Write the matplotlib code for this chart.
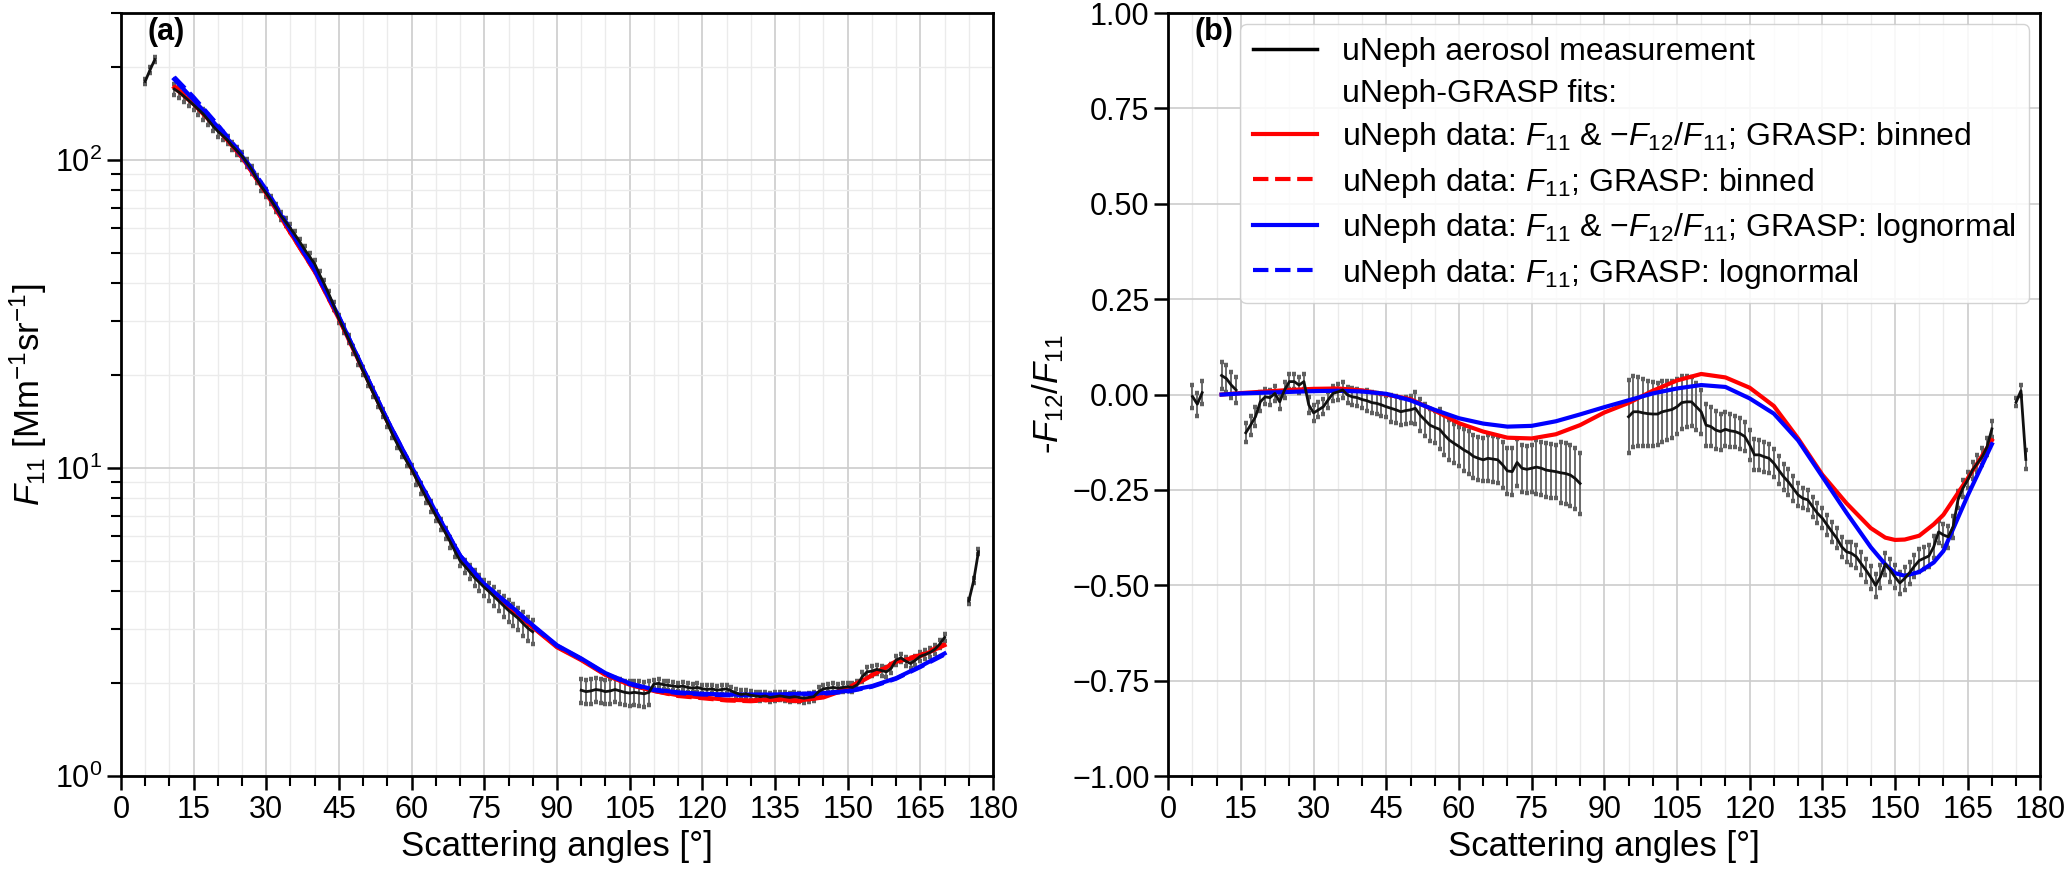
import numpy as np
import matplotlib
matplotlib.use('Agg')
import matplotlib.pyplot as plt
from matplotlib.lines import Line2D
from matplotlib.ticker import MultipleLocator, NullFormatter

plt.rcParams['font.family'] = ['Liberation Sans', 'DejaVu Sans']
plt.rcParams['mathtext.fontset'] = 'custom'
plt.rcParams['mathtext.rm'] = 'Liberation Sans'
plt.rcParams['mathtext.it'] = 'Liberation Sans:italic'
plt.rcParams['mathtext.bf'] = 'Liberation Sans:bold'

# ---------------- measurement angles (deg) ----------------
ang_seg1 = [5, 6, 7]
ang_seg2 = list(range(11, 86))
ang_seg3 = list(range(95, 171))
ang_seg4 = [175, 176, 177]

# ---------------- panel (a): F11 measurement ----------------
f11_seg1 = [180, 196, 212]
f11_seg1_err = [3.5, 4.0, 4.2]
f11_seg2 = [170, 166, 161, 156, 151, 146, 141, 135, 129, 124,
            120, 116, 111, 107, 103, 98, 93, 87, 82, 78,
            74, 70, 66, 63, 60, 57, 54, 51, 48.5, 46,
            42.5, 39.5, 36.5, 33.5, 30.5, 28.3, 26.2, 24.2, 22.3, 20.6,
            19.0, 17.6, 16.3, 15.1, 14.0, 12.9, 12.0, 11.2, 10.5, 9.9,
            9.2, 8.6, 8.0, 7.5, 7.0, 6.55, 6.15, 5.75, 5.35, 5.0,
            4.8, 4.6, 4.4, 4.25, 4.1, 3.97, 3.83, 3.7, 3.57, 3.45,
            3.35, 3.25, 3.13, 3.02, 2.94]
# relative uncertainty in percent
f11_seg2_pct = [4, 4, 4, 4, 4, 4, 4, 4, 4, 4,
                3, 3, 3, 3, 3, 3, 3, 3, 3, 3,
                3, 3, 3, 3, 3, 3, 3, 3, 3, 3,
                3, 3, 3, 3, 3, 3, 3, 3, 3, 3,
                3, 3, 3, 3, 3, 3, 3, 3, 3, 3,
                4, 4, 4, 4, 4, 4, 4, 4, 4, 4,
                5, 5, 6, 6, 6, 7, 7, 7, 8, 8,
                8, 8, 9, 9, 9]
f11_seg3 = [1.90, 1.88, 1.89, 1.91, 1.90, 1.88, 1.89, 1.91, 1.89, 1.87,
            1.86, 1.87, 1.86, 1.85, 1.87, 1.99, 2.00, 1.98, 1.97, 1.96,
            1.95, 1.96, 1.94, 1.93, 1.94, 1.92, 1.91, 1.92, 1.90, 1.91,
            1.92, 1.89, 1.86, 1.84, 1.85, 1.83, 1.82, 1.81, 1.82, 1.80,
            1.81, 1.82, 1.81, 1.80, 1.81, 1.80, 1.79, 1.80, 1.81, 1.88,
            1.92, 1.93, 1.94, 1.93, 1.94, 1.95, 1.94, 1.98, 2.10, 2.18,
            2.19, 2.22, 2.20, 2.18, 2.24, 2.38, 2.42, 2.36, 2.32, 2.38,
            2.45, 2.48, 2.52, 2.58, 2.68, 2.82]
f11_seg3_err = [0.17, 0.17, 0.17, 0.17, 0.17, 0.17, 0.17, 0.17, 0.17, 0.17,
                0.17, 0.17, 0.17, 0.17, 0.17, 0.06, 0.06, 0.06, 0.06, 0.06,
                0.06, 0.06, 0.06, 0.06, 0.06, 0.06, 0.06, 0.06, 0.06, 0.06,
                0.06, 0.06, 0.06, 0.06, 0.06, 0.06, 0.06, 0.06, 0.06, 0.06,
                0.06, 0.06, 0.06, 0.06, 0.06, 0.06, 0.06, 0.06, 0.06, 0.06,
                0.06, 0.06, 0.06, 0.06, 0.06, 0.06, 0.06, 0.06, 0.08, 0.08,
                0.08, 0.08, 0.08, 0.08, 0.08, 0.08, 0.08, 0.08, 0.08, 0.08,
                0.08, 0.08, 0.08, 0.08, 0.08, 0.08]
f11_seg4 = [3.7, 4.3, 5.35]
f11_seg4_err = [0.07, 0.08, 0.1]

# ---------------- panel (b): -F12/F11 measurement ----------------
pol_seg1 = [-0.005, -0.025, 0.005]
pol_seg1_err = [0.03, 0.03, 0.03]
pol_seg2 = [0.05, 0.042, 0.025, 0.012, np.nan, -0.10, -0.08, -0.058, -0.019, -0.006,
            -0.008, 0.003, -0.019, 0.012, 0.034, 0.034, 0.025, 0.034, -0.027, -0.048,
            -0.04, -0.032, -0.014, 0.003, 0.007, 0.012, -0.001, -0.006, -0.008, -0.013,
            -0.016, -0.021, -0.023, -0.027, -0.032, -0.036, -0.04, -0.045, -0.042, -0.04,
            -0.036, -0.054, -0.067, -0.08, -0.086, -0.091, -0.106, -0.119, -0.128, -0.136,
            -0.145, -0.152, -0.162, -0.167, -0.171, -0.167, -0.169, -0.171, -0.184, -0.20,
            -0.202, -0.178, -0.193, -0.196, -0.193, -0.19, -0.193, -0.198, -0.20, -0.202,
            -0.205, -0.207, -0.211, -0.22, -0.233]
pol_seg2_err = [0.035, 0.035, 0.035, 0.035, 0.03, 0.025, 0.025, 0.025, 0.025, 0.02,
                0.02, 0.02, 0.02, 0.02, 0.02, 0.02, 0.02, 0.02, 0.02, 0.02,
                0.02, 0.02, 0.02, 0.02, 0.022, 0.022, 0.022, 0.022, 0.022, 0.022,
                0.028, 0.028, 0.028, 0.028, 0.028, 0.035, 0.035, 0.035, 0.035, 0.035,
                0.042, 0.042, 0.042, 0.042, 0.042, 0.052, 0.052, 0.052, 0.052, 0.052,
                0.056, 0.056, 0.056, 0.056, 0.056, 0.06, 0.06, 0.06, 0.06, 0.06,
                0.062, 0.062, 0.062, 0.062, 0.062, 0.07, 0.07, 0.07, 0.07, 0.07,
                0.08, 0.08, 0.08, 0.08, 0.08]
pol_seg3 = [-0.058, -0.045, -0.045, -0.048, -0.05, -0.051, -0.051, -0.045, -0.042, -0.039,
            -0.032, -0.021, -0.019, -0.019, -0.032, -0.045, -0.08, -0.084, -0.093, -0.097,
            -0.091, -0.095, -0.097, -0.102, -0.11, -0.132, -0.158, -0.158, -0.163, -0.167,
            -0.18, -0.198, -0.215, -0.229, -0.246, -0.263, -0.272, -0.276, -0.294, -0.311,
            -0.324, -0.342, -0.36, -0.377, -0.399, -0.412, -0.416, -0.425, -0.443, -0.46,
            -0.479, -0.50, -0.478, -0.444, -0.46, -0.478, -0.494, -0.482, -0.467, -0.45,
            -0.435, -0.429, -0.423, -0.399, -0.36, -0.368, -0.373, -0.346, -0.276, -0.246,
            -0.224, -0.198, -0.18, -0.163, -0.137, -0.09]
pol_seg3_err = [0.095, 0.093, 0.09, 0.088, 0.086, 0.084, 0.082, 0.08, 0.078, 0.075,
                0.072, 0.07, 0.067, 0.064, 0.062, 0.058, 0.055, 0.052, 0.05, 0.047,
                0.045, 0.043, 0.041, 0.04, 0.039, 0.04, 0.041, 0.04, 0.039, 0.038,
                0.037, 0.036, 0.034, 0.033, 0.032, 0.03, 0.026, 0.026, 0.026, 0.026,
                0.026, 0.026, 0.026, 0.026, 0.026, 0.026, 0.03, 0.03, 0.03, 0.03,
                0.03, 0.03, 0.03, 0.03, 0.03, 0.03, 0.03, 0.03, 0.029, 0.029,
                0.029, 0.029, 0.029, 0.029, 0.029, 0.029, 0.029, 0.029, 0.022, 0.022,
                0.022, 0.022, 0.022, 0.022, 0.022, 0.022]
pol_seg4 = [-0.02, 0.01, -0.17]
pol_seg4_err = [0.01, 0.015, 0.025]

# ---------------- GRASP fits ----------------
ang_fit_a = [11, 15, 20, 25, 30, 35, 40, 45, 50, 55, 60, 65, 70, 75, 80, 85, 90,
             95, 100, 105, 110, 115, 120, 125, 130, 135, 140, 145, 150, 155, 160, 165, 170]
f11_binned_both = [172, 152, 126, 102, 78, 58, 43.5, 30.5, 20.8, 14.2, 10.0, 7.1, 5.15,
                   4.15, 3.55, 3.04, 2.62, 2.38, 2.13, 1.98, 1.89, 1.83, 1.80, 1.77, 1.76,
                   1.78, 1.76, 1.80, 1.92, 2.12, 2.35, 2.45, 2.66]
f11_binned_f11 = [174, 153, 127, 102, 78, 58, 43.5, 30.6, 20.9, 14.2, 10.0, 7.1, 5.15,
                  4.15, 3.56, 3.05, 2.63, 2.39, 2.14, 1.98, 1.89, 1.82, 1.79, 1.76, 1.75,
                  1.77, 1.75, 1.81, 1.93, 2.13, 2.36, 2.47, 2.68]
f11_logn_both = [183, 157, 128, 103, 79, 59, 44, 31, 21, 14.3, 10.1, 7.2, 5.2,
                 4.2, 3.62, 3.09, 2.66, 2.41, 2.16, 2.0, 1.91, 1.87, 1.85, 1.84, 1.84,
                 1.84, 1.85, 1.86, 1.89, 1.96, 2.08, 2.27, 2.5]
f11_logn_f11 = [186, 160, 130, 104, 80, 59.5, 44, 31, 21, 14.3, 10.1, 7.2, 5.2,
                4.2, 3.6, 3.07, 2.65, 2.4, 2.15, 1.99, 1.9, 1.86, 1.84, 1.83, 1.83,
                1.83, 1.84, 1.85, 1.88, 1.95, 2.07, 2.26, 2.48]

ang_fit_b = [11, 15, 20, 25, 30, 35, 40, 45, 50, 55, 60, 65, 70, 75, 80, 85, 90, 95,
             100, 105, 110, 115, 120, 125, 130, 135, 140, 145, 148, 150, 152, 155, 158,
             160, 165, 170]
pol_binned = [0.0, 0.004, 0.008, 0.012, 0.015, 0.016, 0.011, 0.0, -0.012, -0.042,
              -0.075, -0.097, -0.113, -0.115, -0.104, -0.08, -0.047, -0.022, 0.01, 0.037,
              0.054, 0.045, 0.018, -0.03, -0.115, -0.21, -0.285, -0.35, -0.375, -0.381,
              -0.38, -0.37, -0.34, -0.315, -0.22, -0.12]
pol_logn = [0.0, 0.003, 0.005, 0.007, 0.009, 0.01, 0.008, 0.002, -0.015, -0.04,
            -0.062, -0.076, -0.084, -0.082, -0.07, -0.052, -0.033, -0.015, 0.003, 0.016,
            0.025, 0.02, -0.01, -0.05, -0.12, -0.215, -0.31, -0.40, -0.445, -0.468,
            -0.475, -0.465, -0.44, -0.41, -0.265, -0.13]


def draw_measurement(ax, ang, val, err):
    # grey error bars with black square-looking caps, black line on top
    eb = ax.errorbar(ang, val, yerr=err, fmt='none', ecolor='#606060', elinewidth=1.3,
                     capsize=1.7, capthick=3.2, zorder=2)
    for cap in eb[1]:
        cap.set_color('#111111')
    ax.plot(ang, val, color='#111111', lw=2.0, zorder=4)


def style_axes(ax):
    ax.set_xlim(0, 180)
    ax.set_xticks(range(0, 181, 15))
    ax.xaxis.set_minor_locator(MultipleLocator(5))
    ax.tick_params(which='major', direction='out', length=10, width=1.8, labelsize=22,
                   color='k')
    ax.tick_params(which='minor', direction='out', length=7, width=1.5, color='k')
    ax.grid(which='major', color='#cccccc', lw=1.2, zorder=0)
    for sp in ax.spines.values():
        sp.set_linewidth(2.0)
        sp.set_color('k')
    ax.set_axisbelow(True)
    ax.set_xlabel('Scattering angles [°]', fontsize=25)


fig = plt.figure(figsize=(20.67, 8.72), dpi=100)
ax_a = fig.add_axes([0.0585, 0.110, 0.4219, 0.875])
ax_b = fig.add_axes([0.5652, 0.110, 0.4219, 0.875])

# ---- panel (a)
for ang, val, err in [(ang_seg1, f11_seg1, f11_seg1_err),
                      (ang_seg2, f11_seg2,
                       [v * p / 100.0 for v, p in zip(f11_seg2, f11_seg2_pct)]),
                      (ang_seg3, f11_seg3, f11_seg3_err),
                      (ang_seg4, f11_seg4, f11_seg4_err)]:
    draw_measurement(ax_a, ang, val, err)

ax_a.plot(ang_fit_a, f11_binned_both, color='red', lw=3, zorder=3)
ax_a.plot(ang_fit_a, f11_binned_f11, color='red', lw=3, ls='--', zorder=3)
ax_a.plot(ang_fit_a, f11_logn_both, color='blue', lw=3, zorder=3)
ax_a.plot(ang_fit_a, f11_logn_f11, color='blue', lw=3, ls='--', zorder=3)

ax_a.set_yscale('log')
ax_a.set_ylim(1, 300)
ax_a.yaxis.set_minor_formatter(NullFormatter())
style_axes(ax_a)
ax_a.grid(which='minor', color='#ebebeb', lw=1.0, zorder=0)
ax_a.set_ylabel('$F_{11}$ [Mm$^{-1}$sr$^{-1}$]', fontsize=25)
ax_a.text(0.03, 0.995, '(a)', transform=ax_a.transAxes, fontsize=22,
          fontweight='bold', va='top', ha='left')

# ---- panel (b)
for ang, val, err in [(ang_seg1, pol_seg1, pol_seg1_err),
                      (ang_seg2, pol_seg2, pol_seg2_err),
                      (ang_seg3, pol_seg3, pol_seg3_err),
                      (ang_seg4, pol_seg4, pol_seg4_err)]:
    draw_measurement(ax_b, ang, val, err)

ax_b.plot(ang_fit_b, pol_binned, color='red', lw=3, zorder=3)
ax_b.plot(ang_fit_b, pol_logn, color='blue', lw=3, zorder=3)

ax_b.set_ylim(-1, 1)
ax_b.set_yticks(np.arange(-1, 1.01, 0.25))
style_axes(ax_b)
ax_b.grid(which='minor', axis='x', color='#ebebeb', lw=1.0, zorder=0)
ax_b.set_ylabel('-$F_{12}$/$F_{11}$', fontsize=25)
ax_b.text(0.03, 0.995, '(b)', transform=ax_b.transAxes, fontsize=22,
          fontweight='bold', va='top', ha='left')

handles = [Line2D([], [], color='k', lw=2.5),
           Line2D([], [], ls='none'),
           Line2D([], [], color='red', lw=3),
           Line2D([], [], color='red', lw=3, ls='--'),
           Line2D([], [], color='blue', lw=3),
           Line2D([], [], color='blue', lw=3, ls='--')]
labels = ['uNeph aerosol measurement',
          'uNeph-GRASP fits:',
          'uNeph data: $F_{11}$ & $-F_{12}/F_{11}$; GRASP: binned',
          'uNeph data: $F_{11}$; GRASP: binned',
          'uNeph data: $F_{11}$ & $-F_{12}/F_{11}$; GRASP: lognormal',
          'uNeph data: $F_{11}$; GRASP: lognormal']
ax_b.legend(handles, labels, loc='upper right', fontsize=23, handlelength=2.0,
            labelspacing=0.36, borderaxespad=0.35, framealpha=0.85,
            edgecolor='#cccccc')

fig.savefig('out.png', dpi=100)
